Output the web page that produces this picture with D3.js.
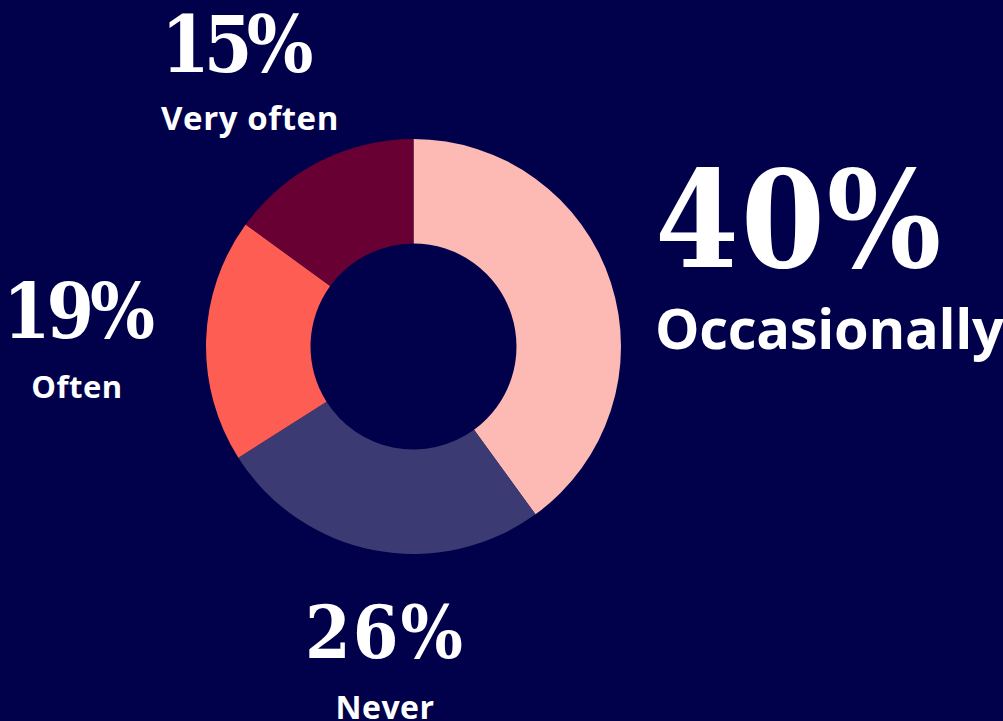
<!DOCTYPE html>
<html>
<head>
<meta charset="utf-8">
<script src="https://cdn.jsdelivr.net/npm/d3@7"></script>
<style>
  html, body { margin: 0; padding: 0; background: #00004b; overflow: hidden; }
  svg { display: block; }
</style>
</head>
<body>
<svg id="chart" width="1003" height="721"></svg>
<script>
// Survey answers, clockwise from 12 o'clock
const categories = ["Occasionally", "Never", "Often", "Very often"];
const values = [40, 26, 19, 15];
const colors = ["#fdbab5", "#3b3a72", "#fd5d52", "#690033"];

const width = 1003, height = 721;
const cx = 413.5, cy = 346.5;
const outerR = 207.5, innerR = 103;

// Label placement per category: anchor point, alignment, and sizes
const labelLayout = {
  "Occasionally": { x: 655, y: 267, anchor: "start", numSize: 134, numTrack: 2, labelSize: 56, labelTrack: -0.3, gap: 82 },
  "Never":        { x: 385, y: 658, anchor: "middle", numSize: 73, numTrack: 2, labelSize: 32, labelTrack: 0.5, gap: 61 },
  "Often":        { x: 77,  y: 338, anchor: "middle", numSize: 76, numTrack: -4, labelSize: 31, labelTrack: 0.5, gap: 60 },
  "Very often":   { x: 161, y: 72,  anchor: "start", numSize: 78, numTrack: -6, labelSize: 33, labelTrack: 0.6, gap: 58 }
};

const svg = d3.select("#chart");
svg.append("rect").attr("width", width).attr("height", height).attr("fill", "#00004b");

const data = categories.map((c, i) => ({ category: c, value: values[i], color: colors[i] }));

const pie = d3.pie().value(d => d.value).sort(null);
const arc = d3.arc().innerRadius(innerR).outerRadius(outerR);

const g = svg.append("g").attr("transform", `translate(${cx},${cy})`);
g.selectAll("path")
  .data(pie(data))
  .join("path")
  .attr("d", arc)
  .attr("fill", d => d.data.color);

const labels = svg.append("g").selectAll("g")
  .data(data)
  .join("g")
  .attr("transform", d => `translate(${labelLayout[d.category].x},${labelLayout[d.category].y})`);

labels.append("text")
  .attr("text-anchor", d => labelLayout[d.category].anchor)
  .attr("font-family", "'DejaVu Serif Condensed', 'DejaVu Serif', serif")
  .attr("font-stretch", "condensed")
  .attr("font-weight", 700)
  .attr("font-size", d => labelLayout[d.category].numSize)
  .attr("letter-spacing", d => labelLayout[d.category].numTrack)
  .attr("fill", "#ffffff")
  .text(d => d.value + "%");

labels.append("text")
  .attr("text-anchor", d => labelLayout[d.category].anchor)
  .attr("y", d => labelLayout[d.category].gap)
  .attr("font-family", "'Open Sans', 'DejaVu Sans', sans-serif")
  .attr("font-weight", 700)
  .attr("font-size", d => labelLayout[d.category].labelSize)
  .attr("letter-spacing", d => labelLayout[d.category].labelTrack)
  .attr("fill", "#ffffff")
  .text(d => d.category);
</script>
</body>
</html>
